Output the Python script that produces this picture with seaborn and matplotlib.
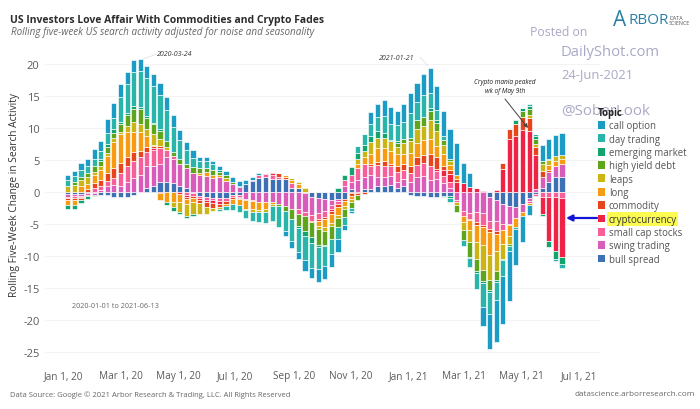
import numpy as np
import pandas as pd
import matplotlib.pyplot as plt
import matplotlib.dates as mdates
from matplotlib.patches import Patch
import seaborn as sns

sns.set_theme(style="white")
plt.rcParams['font.family'] = ['Open Sans', 'DejaVu Sans']

weeks = pd.date_range("2020-01-05", "2021-06-13", freq="7D")

call_option = [.9,.8,1.1,1.1,1.5,1.6,2.2,2.3,2.1,1.9,
    1.8,1.9,1.9,2,2,2.1,1.8,1.5,1.2,1.2,
    .6,.6,.6,.6,.7,.9,.8,.6,.4,.2,
    0,0,0,-.7,-1,-1.2,-1.6,-1.7,-2,-2.1,
    -2,-1.9,-.9,-.4,0,0,1.9,2.1,2.5,2.6,
    2.3,2.8,3,3,3.2,3.9,3.8,3.9,4.6,5,
    3.1,2.1,0,-3,-5.4,-6.5,-7.5,-7.9,-5.6,-4,
    -1.6,0,2.5,3.1,3.3,3.4]
day_trading = [.8,.9,1,1.1,1.2,1.3,1.7,1.8,3.9,4.4,
    5.3,5.6,6,5.7,5.3,4.8,4,3,2.2,1.4,
    1.1,1.2,.8,-.3,-.6,-1,-1.1,-1.3,-1.5,-1.6,
    -1.7,-2.3,-3.3,-3.2,-3.5,-3.6,-3.8,-3.9,-3.5,-3,
    -2.4,-1.9,-1.2,-.4,1.1,1.6,1.9,2.2,2.7,2.6,
    2.4,2.7,3.9,2.9,3.5,2.2,1.5,.5,-.7,0,
    -.9,-1.4,-2.4,-3.8,-3.5,-2.9,-2.4,-.8,-.3,0,
    .3,.3,0,0,-.4,-.7]
emerging_market = [-.6,-.6,-.5,-.4,-.3,.3,.5,.6,.3,.3,
    .6,.4,.2,.2,.2,-.5,-.5,-.4,-.3,-.3,
    0,0,0,.4,0,0,.1,0,0,0,
    0,0,0,0,0,-.4,-.8,-.8,-.3,-.2,
    0,.7,.8,1.2,1,1,.9,1,.7,.2,
    .4,0,0,0,0,.6,.5,-.2,-.2,0,
    0,-.2,-.4,-.3,-.3,-.3,0,0,.7,.4,
    .5,.4,-.3,-.9,-1.2,-1]
high_yield_debt = [0,.5,.6,.7,.8,.8,.9,.7,1.3,1.8,
    2,2.2,1.8,1.6,1.3,1,.6,.9,.7,.9,
    .8,.5,.9,.5,.4,.2,0,0,0,0,
    0,0,-.3,-.7,-1.6,-1.9,-2.3,-2.4,-2.5,-2.2,
    -2,-1.4,-1.3,-1,-.8,0,0,0,0,0,
    .5,.6,.6,1.3,1.4,1.4,1.2,.9,.4,-1.2,
    -1.6,-2.3,-1.9,-1.7,-1.6,-1.3,-.3,-.3,0,1,
    .9,.8,.5,.2,0,0]
leaps = [1,1.1,.9,1,.5,.5,.5,.7,.3,1,
    1.5,1.3,1,1.6,1.1,.4,-.8,-1.6,-1.9,-1.8,
    -1.7,-1.1,-.5,-.2,.5,0,0,-.2,-.4,-.3,
    -.4,-.3,0,0,.3,.3,.6,0,-.5,-.6,
    -.5,-.5,-.4,-.4,.7,1,1.8,1.7,1.7,1.5,
    1.2,1.7,1.8,2.3,2.2,2.9,2.4,1.4,.6,-.4,
    -1.2,-1.8,-2.6,-3.9,-3.8,-3.2,-2.3,-1.3,0,0,
    .5,.4,1,.8,.7,.7]
long_ = [-.8,-.7,.9,.9,1.3,1.7,2.6,4.1,4.4,3.9,
    3.2,3,1.8,.2,-1,-1.5,-1.6,-1.2,-.7,-.6,
    .3,.7,.4,.3,-.4,-.7,-1,-1.3,-1.3,-1.3,
    -1.1,-.3,0,.4,.5,.6,0,0,-.7,-1.3,
    -1.4,-1.3,-.8,-.5,.7,1,1.6,2.1,2,2,
    1.8,1.6,2,2.1,2.3,2.4,1.8,1.8,.8,.7,
    -1,-1.6,-2.6,-2.8,-3.7,-2.7,-2.2,-1.6,-1.4,-.7,
    -.3,0,0,.8,.8,.7]
commodity = [-.3,-.3,-.3,.4,.7,.9,1.3,1.5,1.6,1.4,
    1.3,1,.7,.4,.4,0,0,0,-.3,-.4,
    -.5,-.7,-.8,-.6,-.4,-.3,-.2,0,0,0,
    0,.3,.6,.3,0,0,0,-.2,-.4,-.3,
    -.4,-.5,-.3,-.4,-.2,-.3,.3,.5,.7,.4,
    .9,1,1.2,1.3,1.3,1.9,1.8,.6,.6,.5,
    0,-.2,-.5,-.4,-.4,-.4,.9,1.5,1.9,2,
    2,1.3,1,.3,0,0]
cryptocurrency = [-.1,-.1,-.1,-.1,0,0,0,0,0,0,
    0,0,0,.2,-.2,0,0,-.3,-.4,0,
    -.2,-.4,-.5,-.4,0,0,-.1,0,.2,0,
    .2,.3,0,0,0,0,0,0,0,0,
    -.3,0,0,-.2,-.2,0,0,0,0,0,
    0,0,0,0,0,0,.3,1,1.2,1.5,
    1.4,.8,.6,.2,0,.3,3.6,8.3,8.7,9.7,
    9.6,5.3,-2.6,-6.9,-8.4,-9.3]
small_cap_stocks = [-.1,-.2,-.1,-.1,.7,.6,.8,1.1,2,2.5,
    2.7,2.8,2.2,2.6,2.4,1.2,.5,0,-.4,-.4,
    -.3,-.4,-.3,-.4,-.5,-.3,-.3,-.2,-.2,.5,
    .4,.5,.3,0,.7,-.8,-.7,-.9,-.9,-1,
    -.6,-.4,.9,1.2,1.8,2,1.5,1.8,1.7,1.5,
    1.6,1.3,1.4,1.9,2,2.1,1.3,1.1,.9,-.3,
    -.7,-.9,-1.5,-1.8,-1.3,-1.6,-.9,-.2,0,0,
    -.3,-.3,-.8,-.8,-.8,-.9]
swing_trading = [-.5,-.4,-.4,-.3,-.2,.3,.9,1.1,1,1.5,
    2.2,2.6,3.4,3,2.9,3.8,3.7,3.3,3.1,3,
    2.6,2.5,2.2,2.3,1.7,1.3,.8,-1.1,-1.2,-1.5,
    -1.6,-1.6,-1.9,-2.2,-2.6,-2.6,-2.9,-2.8,-2.4,-1.8,
    -.9,-.3,.9,1,1.9,1.9,2.2,1.5,1.4,1.4,
    1,1.1,1.5,2.3,2.5,1.9,2,1.4,.7,-1.3,
    -3,-3.3,-3.2,-3.3,-3.7,-3.3,-3.1,-2.8,-1.8,-1.2,
    -.4,.5,1.6,1.5,1.8,2.1]
bull_spread = [-.3,-.3,-.3,-.2,-.2,-.4,-.5,-.8,-.8,-.8,
    -.4,0,.7,1,1.5,1.6,1.4,1,.6,-.2,
    -.7,-.8,-.9,-1,-.9,-.5,-.5,1.2,1.7,2.2,
    2.4,2.1,2,2,.7,.6,-.2,-.8,-.9,-1.1,
    -1.2,-1.1,-1.1,.5,0,.5,.4,.9,1,1.1,
    .6,1,-.5,-.7,-.7,-.8,-.8,-.6,-.7,0,
    0,0,0,0,-.8,-1.2,-1.9,-2.2,-2.3,-1.9,
    -1,-.3,.7,1.6,2.3,2.3]

topics = ["call option", "day trading", "emerging market", "high yield debt", "leaps", "long",
          "commodity", "cryptocurrency", "small cap stocks", "swing trading", "bull spread"]
colors = ["#1b9cc4", "#2bb5aa", "#12a46c", "#5fa51c", "#cbb414", "#f69b12",
          "#e8451c", "#ee2346", "#f75f9b", "#d95cb9", "#3e70b6"]
series = [call_option, day_trading, emerging_market, high_yield_debt, leaps, long_,
          commodity, cryptocurrency, small_cap_stocks, swing_trading, bull_spread]

tick_dates = ["2020-01-01", "2020-03-01", "2020-05-01", "2020-07-01", "2020-09-01",
              "2020-11-01", "2021-01-01", "2021-03-01", "2021-05-01", "2021-07-01"]
tick_labels = ["Jan 1, 20", "Mar 1, 20", "May 1, 20", "Jul 1, 20", "Sep 1, 20",
               "Nov 1, 20", "Jan 1, 21", "Mar 1, 21", "May 1, 21", "Jul 1, 21"]
y_ticks = [20, 15, 10, 5, 0, -5, -10, -15, -20, -25]

W, H = 700, 410


def fx(px):
    return px / W


def fy(py):
    return 1 - py / H


def fig_arrow(start, end, **props):
    fig.add_artist(plt.Annotation("", xy=(fx(end[0]), fy(end[1])), xytext=(fx(start[0]), fy(start[1])),
                                  xycoords="figure fraction", textcoords="figure fraction",
                                  arrowprops=dict(shrinkA=0, shrinkB=0, **props)))


fig = plt.figure(figsize=(7, 4.1), dpi=100)
ax = fig.add_axes([fx(45), fy(368), fx(555), 318 / H])

x_num = mdates.date2num(weeks)
pos_base = np.zeros(len(weeks))
neg_base = np.zeros(len(weeks))

# bull spread sits next to zero, call option on the outside
for name, values, color in list(zip(topics, series, colors))[::-1]:
    values = np.array(values, dtype=float)
    base = np.where(values >= 0, pos_base, neg_base)
    df = pd.DataFrame({"week": x_num, "value": values})
    sns.barplot(data=df, x="week", y="value", native_scale=True, ax=ax, color=color,
                saturation=1, width=0.78, errorbar=None, bottom=base,
                edgecolor="white", linewidth=0.45, zorder=3)
    pos_base += np.where(values >= 0, values, 0)
    neg_base += np.where(values < 0, values, 0)

x0 = mdates.date2num(pd.Timestamp("2020-01-01"))
px_per_day = 515 / 547
ax.set_xlim(x0 - 19 / px_per_day, x0 + 536 / px_per_day)
ax.set_ylim(-27.34, 22.34)
ax.set_xticks(mdates.date2num(pd.to_datetime(tick_dates)))
ax.set_xticklabels(tick_labels, fontsize=7.2, color="#5c5c5c")
ax.set_yticks(y_ticks)
ax.set_yticklabels([str(v) for v in y_ticks], fontsize=8, color="#5c5c5c")
ax.tick_params(axis="x", length=0, pad=2)
ax.tick_params(axis="y", length=0, pad=4)
ax.set_xlabel("")
ax.set_ylabel("")
ax.grid(axis="y", color="#f3f3f3", linewidth=0.8, zorder=0)
ax.set_axisbelow(True)
sns.despine(ax=ax, left=True, bottom=True)

fig.text(fx(15), fy(195), "Rolling Five-Week Change in Search Activity", rotation=90,
         fontsize=7.3, color="#333333", ha="center", va="center")

# header
fig.text(fx(10), fy(20), "US Investors Love Affair With Commodities and Crypto Fades",
         fontsize=7.5, fontweight="bold", color="#2b2b2b", va="center")
fig.text(fx(11), fy(33), "Rolling five-week US search activity adjusted for noise and seasonality",
         fontsize=7.1, style="italic", color="#666666", va="center")

# notes on the chart
fig.text(fx(175), fy(54), "2020-03-24", fontsize=5, style="italic", color="#333333", ha="center", va="center")
fig.text(fx(397), fy(58), "2021-01-21", fontsize=5, style="italic", color="#333333", ha="center", va="center")
fig.text(fx(72), fy(307), "2020-01-01 to 2021-06-13", fontsize=5.2, color="#666666", va="center")
fig.text(fx(505), fy(87), "Crypto mania peaked\nwk of May 9th", fontsize=4.7, style="italic",
         color="#222222", ha="center", va="center", linespacing=1.25)
fig_arrow((157, 55), (143, 60), arrowstyle="-", color="#dddddd", lw=0.5)
fig_arrow((420, 58), (428, 67), arrowstyle="-", color="#dddddd", lw=0.5)
fig_arrow((505, 100), (528, 129), arrowstyle="-|>", color="#444444", lw=0.7, mutation_scale=6)
fig_arrow((597, 219), (566, 219), arrowstyle="-|>", color="#1414d8", lw=1.6, mutation_scale=9)

# legend
handles = [Patch(facecolor=c, edgecolor="none", label=t) for t, c in zip(topics, colors)]
leg = fig.legend(handles=handles, loc="upper left", bbox_to_anchor=(fx(598), fy(108)), frameon=False,
                 title="Topic", fontsize=6.9, title_fontsize=6.9, handlelength=0.72, handleheight=0.9,
                 handletextpad=0.4, labelspacing=0.245, borderpad=0, borderaxespad=0, alignment="left",
                 labelcolor="#555555")
leg.get_title().set_fontweight("bold")
leg.get_title().set_color("#222222")
leg.get_texts()[7].set_bbox(dict(facecolor="#fbfb50", edgecolor="none", pad=1.2))
leg.get_texts()[7].set_color("#333333")

# watermark and logo
mark = "#a9a9c6"
fig.text(fx(530), fy(33), "Posted on", fontsize=8.8, color=mark, va="center")
fig.text(fx(561), fy(53), "DailyShot.com", fontsize=10.6, color=mark, va="center")
fig.text(fx(561), fy(75), "24-Jun-2021", fontsize=9.4, color=mark, va="center")
fig.text(fx(561), fy(112), "@SoberLook", fontsize=10.9, color=mark, va="center")
fig.text(fx(613), fy(20), "A", fontsize=15, color="#2b7fa6", va="center")
fig.text(fx(628), fy(21), "RBOR", fontsize=11, color="#2b7fa6", va="center")
fig.text(fx(669), fy(21), "DATA\nSCIENCE", fontsize=3.9, color="#555555", va="center", linespacing=1.1)

# footer
fig.text(fx(10), fy(395), "Data Source: Google \u00a9 2021 Arbor Research & Trading, LLC. All Rights Reserved",
         fontsize=5.5, color="#666666", va="center")
fig.text(fx(695), fy(395), "datascience.arborresearch.com", fontsize=5.9, color="#666666", va="center", ha="right")

fig.savefig("out.png", dpi=100)
